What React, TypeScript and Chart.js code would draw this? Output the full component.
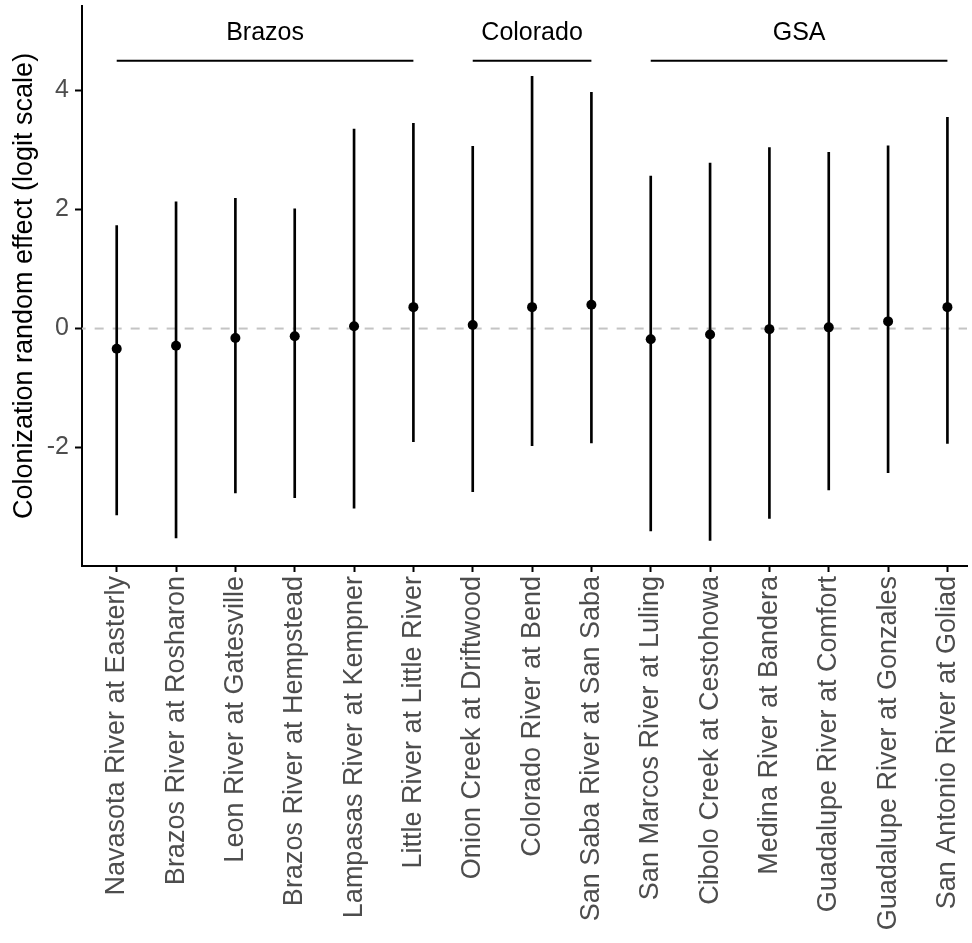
import React, { useEffect, useRef } from 'react';
import { Chart, registerables } from 'chart.js';

Chart.register(...registerables);

const sites = [
  'Navasota River at Easterly',
  'Brazos River at Rosharon',
  'Leon River at Gatesville',
  'Brazos River at Hempstead',
  'Lampasas River at Kempner',
  'Little River at Little River',
  'Onion Creek at Driftwood',
  'Colorado River at Bend',
  'San Saba River at San Saba',
  'San Marcos River at Luling',
  'Cibolo Creek at Cestohowa',
  'Medina River at Bandera',
  'Guadalupe River at Comfort',
  'Guadalupe River at Gonzales',
  'San Antonio River at Goliad',
];
const estimates = [-0.34, -0.29, -0.16, -0.13, 0.04, 0.36, 0.06, 0.36, 0.4, -0.18, -0.1, -0.01, 0.02, 0.12, 0.36];
const lower = [-3.13, -3.52, -2.76, -2.84, -3.02, -1.9, -2.74, -1.97, -1.92, -3.4, -3.56, -3.19, -2.71, -2.42, -1.93];
const upper = [1.73, 2.13, 2.19, 2.01, 3.35, 3.45, 3.06, 4.24, 3.97, 2.56, 2.78, 3.04, 2.96, 3.07, 3.55];
const yTicks = [-2, 0, 2, 4];
const groupNames = ['Brazos', 'Colorado', 'GSA'];
const groupStart = [0, 6, 9];
const groupEnd = [5, 8, 14];
const bracketY = 4.5;
const groupLabelY = 4.97;
const referenceY = 0;
const yMin = -3.99;
const yMax = 5.42;
const xMin = -0.585;
const xMax = 14.33;

const FONT = "'Liberation Sans', Arial, sans-serif";

const groupLabelPlugin = {
  id: 'groupLabels',
  afterDatasetsDraw(chart: any) {
    const { ctx, scales } = chart;
    ctx.save();
    ctx.fillStyle = '#000000';
    ctx.font = `25px ${FONT}`;
    ctx.textAlign = 'center';
    ctx.textBaseline = 'middle';
    groupNames.forEach((name, i) => {
      const cx = scales.x.getPixelForValue((groupStart[i] + groupEnd[i]) / 2);
      const cy = scales.y.getPixelForValue(groupLabelY);
      ctx.fillText(name, cx, cy);
    });
    ctx.restore();
  },
};

export default function App() {
  const ref = useRef<HTMLCanvasElement>(null);

  useEffect(() => {
    if (!ref.current) return;
    const bracketSets = groupNames.map((name, i) => ({
      type: 'line' as const,
      label: name,
      data: [
        { x: groupStart[i], y: bracketY },
        { x: groupEnd[i], y: bracketY },
      ],
      borderColor: '#000000',
      borderWidth: 2,
      pointRadius: 0,
      order: 2,
    }));
    const chart = new Chart(ref.current, {
      type: 'bar',
      data: {
        datasets: [
          {
            type: 'scatter' as const,
            label: 'estimate',
            data: estimates.map((v, i) => ({ x: i, y: v })),
            backgroundColor: '#000000',
            borderWidth: 0,
            pointRadius: 5,
            order: 0,
          },
          {
            type: 'bar' as const,
            label: 'interval',
            data: lower.map((lo, i) => ({ x: i, y: [lo, upper[i]] })) as any,
            backgroundColor: '#000000',
            borderWidth: 0,
            barThickness: 2,
            order: 1,
          },
          ...bracketSets,
          {
            type: 'line' as const,
            label: 'zero',
            data: [
              { x: xMin - 1, y: referenceY },
              { x: xMax + 1, y: referenceY },
            ],
            borderColor: '#C4C4C4',
            borderWidth: 2,
            borderDash: [9, 9],
            pointRadius: 0,
            order: 3,
          },
        ] as any,
      },
      options: {
        responsive: false,
        animation: false,
        devicePixelRatio: 1,
        font: { family: FONT },
        layout: { padding: { top: 6, left: 0, right: 0, bottom: 0 } },
        plugins: {
          legend: { display: false },
          tooltip: { enabled: false },
        },
        scales: {
          x: {
            type: 'linear',
            min: xMin,
            max: xMax,
            offset: false,
            afterBuildTicks: (scale: any) => {
              scale.ticks = sites.map((_, i) => ({ value: i }));
            },
            afterFit: (scale: any) => {
              scale.height = 377;
              scale.paddingLeft = 0;
              scale.paddingRight = 0;
            },
            ticks: {
              autoSkip: false,
              maxRotation: 90,
              minRotation: 90,
              padding: 4,
              color: '#4D4D4D',
              font: { family: FONT, size: 27 },
              callback: (value: any) => sites[Math.round(Number(value))] ?? '',
            },
            grid: {
              display: true,
              offset: false,
              drawOnChartArea: false,
              drawTicks: true,
              tickLength: 6,
              tickColor: '#000000',
              tickWidth: 2,
            },
            border: { display: true, color: '#000000', width: 2 },
          },
          y: {
            type: 'linear',
            min: yMin,
            max: yMax,
            afterBuildTicks: (scale: any) => {
              scale.ticks = yTicks.map((v) => ({ value: v }));
            },
            afterFit: (scale: any) => {
              scale.width = 82;
              scale.paddingTop = 0;
              scale.paddingBottom = 0;
            },
            ticks: {
              padding: 6,
              color: '#4D4D4D',
              font: { family: FONT, size: 25 },
              callback: (value: any) => String(value),
            },
            grid: {
              display: true,
              offset: false,
              drawOnChartArea: false,
              drawTicks: true,
              tickLength: 7,
              tickColor: '#000000',
              tickWidth: 2,
            },
            border: { display: true, color: '#000000', width: 2 },
            title: {
              display: true,
              text: 'Colonization random effect (logit scale)',
              color: '#000000',
              font: { family: FONT, size: 27 },
              padding: { top: 8, bottom: 0 },
            },
          },
        },
      },
      plugins: [groupLabelPlugin],
    });
    return () => chart.destroy();
  }, []);

  return (
    <div style={{ position: 'absolute', left: 0, top: 0, width: 972, height: 943, background: '#ffffff' }}>
      <canvas ref={ref} width={972} height={943} style={{ display: 'block' }} />
    </div>
  );
}
